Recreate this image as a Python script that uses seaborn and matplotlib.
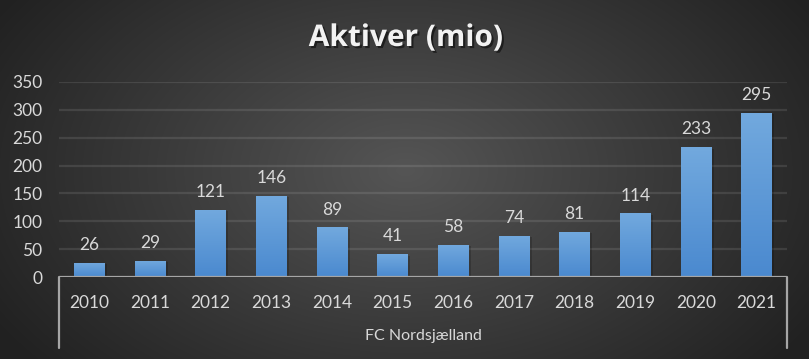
import numpy as np
import pandas as pd
import matplotlib
matplotlib.use("Agg")
import matplotlib.pyplot as plt
import matplotlib.patheffects as pe
from matplotlib.colors import LinearSegmentedColormap
import seaborn as sns

years = ["2010", "2011", "2012", "2013", "2014", "2015", "2016", "2017", "2018", "2019", "2020", "2021"]
values = [26, 29, 121, 146, 89, 41, 58, 74, 81, 114, 233, 295]
title = "Aktiver (mio)"
group_label = "FC Nordsjælland"
yticks = [0, 50, 100, 150, 200, 250, 300, 350]

sns.set_theme(style="dark")
plt.rcParams['font.family'] = ['Lato', 'DejaVu Sans']

W, H = 809, 359
fig = plt.figure(figsize=(W / 100, H / 100), dpi=100)

# radial background
bg = fig.add_axes([0, 0, 1, 1], zorder=-10)
yy, xx = np.mgrid[0:H, 0:W]
r = np.sqrt(((xx - 405) / 470) ** 2 + ((yy - 170) / 300) ** 2)
r = np.clip(r, 0, 1)
c_in = np.array([0x55, 0x55, 0x55]) / 255
c_out = np.array([0x22, 0x22, 0x22]) / 255
img = c_in[None, None, :] * (1 - r[..., None]) + c_out[None, None, :] * r[..., None]
bg.imshow(img, aspect='auto', extent=[0, 1, 0, 1], origin='upper')
bg.axis('off')

left, right = 59 / W, 787 / W
bottom, top = (H - 277) / H, (H - 82) / H
ax = fig.add_axes([left, bottom, right - left, top - bottom])
ax.set_facecolor('none')

df = pd.DataFrame({"year": years, "value": values})
sns.barplot(data=df, x="year", y="value", ax=ax, color="#5b9bd5", width=0.51,
            saturation=1, zorder=3, linewidth=0, edgecolor='none')

ax.set_ylim(0, 350)
ax.set_xlim(-0.5, len(years) - 0.5)
ax.set_yticks(yticks)
ax.set_yticklabels([str(t) for t in yticks], color="#d9d9d9", fontsize=12.5)
ax.tick_params(axis='y', length=0, pad=12)
ax.tick_params(axis='x', length=0, pad=13, labelsize=12.5, labelcolor="#d9d9d9")
ax.set_xlabel("")
ax.set_ylabel("")
for s in ax.spines.values():
    s.set_visible(False)
ax.grid(False)
for t in yticks[1:]:
    ax.axhline(t, color="white", alpha=0.1, lw=1.6, zorder=1)
ax.axhline(0, color="#a6a6a6", lw=1.6, zorder=4)

# gradient bars
cmap = LinearSegmentedColormap.from_list("g", ["#4a89cf", "#72a9de"])
grad = np.linspace(0, 1, 256).reshape(-1, 1)
for p in ax.patches:
    x0, y0 = p.get_x(), p.get_y()
    w, h = p.get_width(), p.get_height()
    p.set_path_effects([pe.SimplePatchShadow(offset=(1.5, -1), alpha=0.18, shadow_rgbFace='black'), pe.Normal()])
    im = ax.imshow(grad, cmap=cmap, aspect='auto', origin='lower',
                   extent=[x0, x0 + w, y0, y0 + h], zorder=3.5)
    im.set_clip_path(p)

ax.set_xlim(-0.5, len(years) - 0.5)
ax.set_ylim(0, 350)

for i, v in enumerate(values):
    ax.annotate(str(v), (i, v), xytext=(0, 7), textcoords='offset points',
                ha='center', va='bottom', color="#d9d9d9", fontsize=12.5)

# multi-level axis lines
depth = 71 / 195
for xv in (0, 1):
    ax.plot([xv, xv], [0, -depth], transform=ax.transAxes, color="#a6a6a6",
            lw=1.6, clip_on=False, zorder=4)
ax.text(0.5, -(336 - 277) / 195, group_label, transform=ax.transAxes,
        ha='center', va='center', color="#d9d9d9", fontsize=11.5)

fig.text(406 / W, 1 - 46 / H, title, ha='center', va='baseline', color="#f2f2f2",
         fontsize=21.5, fontweight='bold', family=['Open Sans', 'DejaVu Sans'],
         path_effects=[pe.withSimplePatchShadow(offset=(1.5, -1.5), alpha=0.5, shadow_rgbFace='black')])

fig.savefig("out.png", dpi=100)
